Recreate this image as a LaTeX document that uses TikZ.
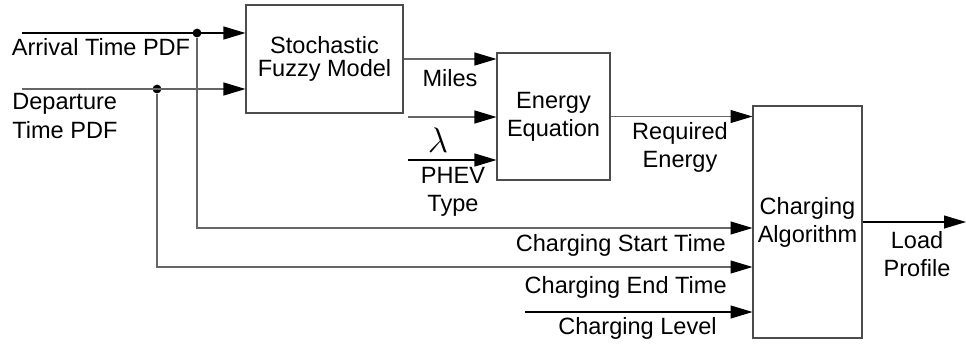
\documentclass[tikz,border=0pt]{standalone}
\usepackage{fontspec}
\setmainfont{Liberation Sans}
\usetikzlibrary{arrows.meta}

\begin{document}
\begin{tikzpicture}[
    x=0.02cm, y=-0.02cm, font=\fontsize{13.4}{16}\selectfont,
    block/.style={draw=black!70, line width=0.6pt, align=center, inner sep=0pt},
    wire/.style={draw=black!60, line width=0.6pt},
    lbl/.style={inner sep=0pt, align=center},
    dot/.style={circle, fill=black, inner sep=0pt, minimum size=5pt},
    >={Triangle[length=4.4mm, width=2.6mm, color=black]}]
\useasboundingbox (0,0) rectangle (966,345);
\node[block, minimum width=3.14cm, minimum height=2.16cm] (sfm) at (324.5,59) {\raisebox{-4pt}{\shortstack{Stochastic\\Fuzzy Model}}};
\node[block, minimum width=2.26cm, minimum height=2.54cm] (ee) at (553.5,116.5) {Energy\\Equation};
\node[block, minimum width=2.18cm, minimum height=4.64cm] (ca) at (807.5,222) {Charging\\Algorithm};
\coordinate (arrin) at (22,33);
\coordinate (depin) at (22,89);
\node[dot] (arrdot) at (197,33) {};
\node[dot] (depdot) at (157,89) {};
\coordinate (lamin) at (408,117);
\coordinate (phevin) at (408,160);
\coordinate (starty) at (0,228);
\coordinate (endy) at (0,267);
\coordinate (levelin) at (525,312);
\coordinate (loadout) at (966,222);
\draw[wire, black, ->] (arrin) -- (arrin -| sfm.west);
\draw[wire, ->] (depin) -- (depin -| sfm.west);
\draw[wire, ->] (arrdot) |- (ca.west |- starty);
\draw[wire, ->] (depdot) |- (ca.west |- endy);
\draw[wire, ->] (sfm.east) -- (sfm.east -| ee.west);
\draw[wire, ->] (lamin) -- (lamin -| ee.west);
\draw[wire, black, ->] (phevin) -- (phevin -| ee.west);
\draw[wire, ->] (ee.east) -- (ee.east -| ca.west);
\draw[wire, black, ->] (levelin) -- (levelin -| ca.west);
\draw[wire, black, ->] (ca.east) -- (loadout);
\node[lbl] (arrlbl) at (101,47) {Arrival Time PDF};
\node[lbl, align=left, anchor=west] (deplbl) at (12,116) {Departure\\Time PDF};
\node[lbl] (mileslbl) at (450,78) {Miles};
\node[lbl] (lamlbl) at (438,140) {\scalebox{1.4}{$\lambda$}};
\node[lbl] (phevlbl) at (453,192) {PHEV\\Type};
\node[lbl] (reqlbl) at (680,147) {Required\\Energy};
\node[lbl, anchor=east] (startlbl) at (726,245) {Charging Start Time};
\node[lbl, anchor=east] (endlbl) at (727,287) {Charging End Time};
\node[lbl, anchor=east] (levellbl) at (717,328) {Charging Level};
\node[lbl] (loadlbl) at (917,254) {Load\\Profile};
\end{tikzpicture}
\end{document}
